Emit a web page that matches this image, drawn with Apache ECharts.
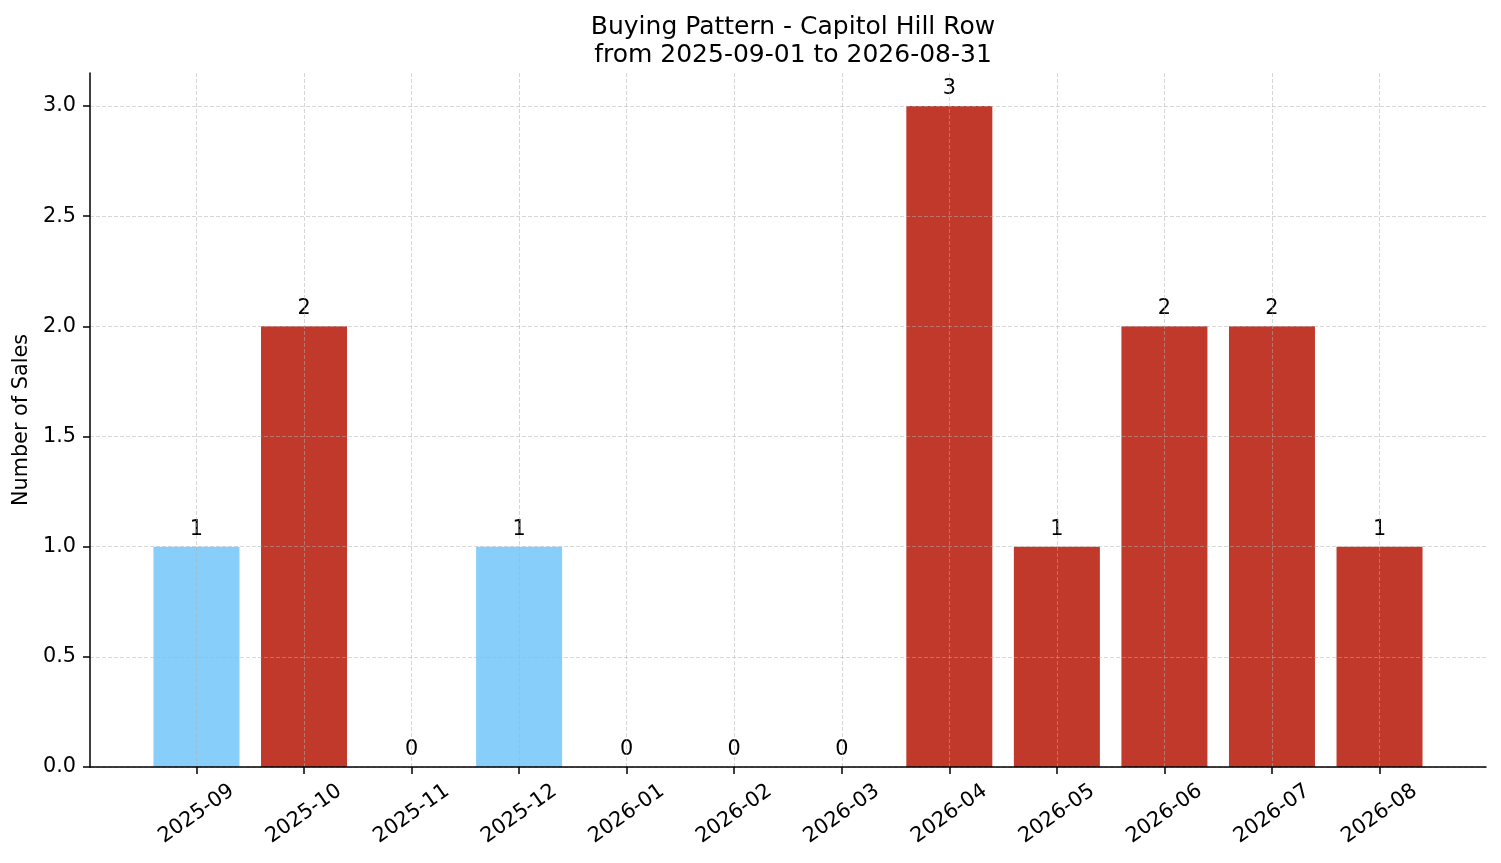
<!DOCTYPE html>
<html lang="en">
<head>
    <meta charset="utf-8">
    <title>Buying Pattern - Capitol Hill Row</title>
    <script src="https://cdn.jsdelivr.net/npm/echarts@6/dist/echarts.min.js"></script>
    <style type="text/css">
        html, body {
            width: 100%;
            height: 100%;
            margin: 0px;
            padding: 0px;
            background: #fff;
        }

        #main {
            width: 1501px;
            height: 863px;
        }
    </style>
</head>
<body>
<div id="main"></div>
<script>
    // months on the x axis
    var months = ['2025-09', '2025-10', '2025-11', '2025-12', '2026-01', '2026-02',
                  '2026-03', '2026-04', '2026-05', '2026-06', '2026-07', '2026-08'];
    // number of sales per month
    var sales = [1, 2, 0, 1, 0, 0, 0, 3, 1, 2, 2, 1];
    // bar colour per month
    var barColors = ['#87CEFA', '#C0392B', '#C0392B', '#87CEFA', '#C0392B', '#C0392B',
                     '#C0392B', '#C0392B', '#C0392B', '#C0392B', '#C0392B', '#C0392B'];
    var yTicks = [0, 0.5, 1.0, 1.5, 2.0, 2.5, 3.0];

    var font = 'DejaVu Sans';
    var gridColor = 'rgba(176,176,176,0.5)';

    var xTicks = months.map(function (m, i) { return i; });
    var barData = sales.map(function (v, i) {
        return { value: [i, v], itemStyle: { color: barColors[i] } };
    });

    var myChart = echarts.init(document.getElementById('main'));
    myChart.setOption({
        backgroundColor: '#fff',
        animation: false,
        textStyle: { fontFamily: font },
        title: {
            text: 'Buying Pattern - Capitol Hill Row\nfrom 2025-09-01 to 2026-08-31',
            left: 788,
            top: 8,
            textAlign: 'center',
            textStyle: {
                fontFamily: font,
                fontSize: 25,
                fontWeight: 'normal',
                lineHeight: 28,
                color: '#000'
            }
        },
        grid: {
            left: 90,
            right: 15,
            top: 73,
            bottom: 96,
            containLabel: false
        },
        xAxis: {
            type: 'value',
            min: -0.99,
            max: 11.99,
            z: 3,
            axisLine: { show: true, onZero: false, lineStyle: { color: '#000', width: 1.5 } },
            axisTick: {
                show: true,
                length: 7,
                customValues: xTicks,
                lineStyle: { color: '#000', width: 1.5 }
            },
            axisLabel: {
                customValues: xTicks,
                rotate: 35,
                align: 'center',
                verticalAlign: 'middle',
                margin: 47,
                fontSize: 20.8,
                fontFamily: font,
                color: '#000',
                formatter: function (v) { return months[Math.round(v)]; }
            },
            splitLine: {
                show: true,
                lineStyle: { color: gridColor, type: [4, 2], width: 1 }
            }
        },
        yAxis: {
            type: 'value',
            min: 0,
            max: 3.15,
            z: 3,
            name: 'Number of Sales',
            nameLocation: 'middle',
            nameGap: 58,
            nameTextStyle: { fontSize: 20.8, fontFamily: font, color: '#000' },
            axisLine: { show: true, onZero: false, lineStyle: { color: '#000', width: 1.5 } },
            axisTick: {
                show: true,
                length: 7,
                customValues: yTicks,
                lineStyle: { color: '#000', width: 1.5 }
            },
            axisLabel: {
                customValues: yTicks,
                margin: 14,
                padding: [4, 0, 0, 0],
                fontSize: 20.8,
                fontFamily: font,
                color: '#000',
                formatter: function (v) { return v.toFixed(1); }
            },
            splitLine: {
                show: true,
                lineStyle: { color: gridColor, type: [4, 2], width: 1 }
            }
        },
        series: [
            {
                type: 'bar',
                data: barData,
                barWidth: 86,
                label: {
                    show: true,
                    position: 'top',
                    distance: 7,
                    fontSize: 20.8,
                    fontFamily: font,
                    color: '#000',
                    formatter: function (p) { return p.value[1]; }
                }
            }
        ]
    });
</script>
</body>
</html>
